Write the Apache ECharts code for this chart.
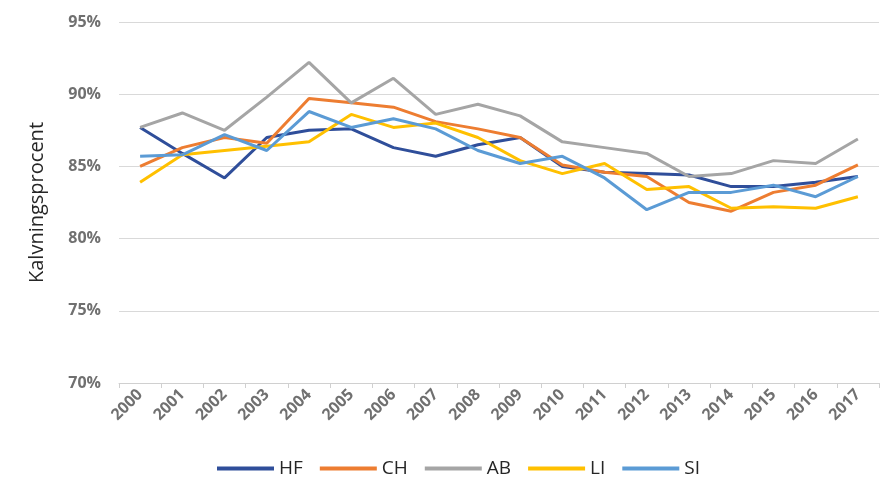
<!DOCTYPE html>
<html>
<head>
<meta charset="utf-8">
<script src="https://cdn.jsdelivr.net/npm/echarts@6/dist/echarts.min.js"></script>
<style>
  html, body { margin: 0; padding: 0; background: #fff; }
  #main { width: 894px; height: 493px; }
</style>
</head>
<body>
<div id="main"></div>
<script>
var years = ['2000','2001','2002','2003','2004','2005','2006','2007','2008','2009',
  '2010','2011','2012','2013','2014','2015','2016','2017'];
var hf = [87.7, 85.9, 84.2, 87.0, 87.5, 87.6, 86.3, 85.7, 86.5, 87.0, 85.0, 84.6, 84.5, 84.4, 83.6, 83.6, 83.9, 84.3];
var ch = [85.0, 86.3, 87.0, 86.6, 89.7, 89.4, 89.1, 88.1, 87.6, 87.0, 85.1, 84.6, 84.3, 82.5, 81.9, 83.2, 83.7, 85.1];
var ab = [87.7, 88.7, 87.5, 89.8, 92.2, 89.4, 91.1, 88.6, 89.3, 88.5, 86.7, 86.3, 85.9, 84.3, 84.5, 85.4, 85.2, 86.9];
var li = [83.9, 85.8, 86.1, 86.4, 86.7, 88.6, 87.7, 88.0, 87.0, 85.4, 84.5, 85.2, 83.4, 83.6, 82.1, 82.2, 82.1, 82.9];
var si = [85.7, 85.8, 87.2, 86.1, 88.8, 87.7, 88.3, 87.6, 86.1, 85.2, 85.7, 84.2, 82.0, 83.2, 83.2, 83.7, 82.9, 84.3];

var names = ['HF', 'CH', 'AB', 'LI', 'SI'];
var colors = ['#2f4e9a', '#ed7d31', '#a5a5a5', '#ffc000', '#5b9bd5'];
var values = [hf, ch, ab, li, si];

var series = names.map(function (n, i) {
  return {
    name: n,
    type: 'line',
    data: values[i],
    symbol: 'none',
    lineStyle: { width: 3, color: colors[i] },
    itemStyle: { color: colors[i] }
  };
});

var chart = echarts.init(document.getElementById('main'));
chart.setOption({
  animation: false,
  grid: { left: 119, right: 15, top: 22, bottom: 110 },
  legend: {
    bottom: 10,
    left: 212,
    icon: 'rect',
    itemWidth: 57,
    itemHeight: 4,
    itemGap: 17,
    textStyle: { fontSize: 19, color: '#262626', fontFamily: 'Open Sans' },
    data: names
  },
  xAxis: {
    type: 'category',
    data: years,
    boundaryGap: true,
    axisLine: { lineStyle: { color: '#d0d0d0', width: 1 } },
    axisTick: { show: true, length: 5, lineStyle: { color: '#d0d0d0' } },
    axisLabel: {
      rotate: 45, color: '#707070', fontSize: 16, fontWeight: 'bold',
      fontFamily: 'Open Sans', margin: 9
    }
  },
  yAxis: {
    type: 'value',
    min: 70,
    max: 95,
    interval: 5,
    name: 'Kalvningsprocent',
    nameLocation: 'middle',
    nameGap: 72,
    nameTextStyle: { fontSize: 20, color: '#262626', fontFamily: 'Open Sans' },
    axisLine: { show: false },
    axisTick: { show: false },
    splitLine: { lineStyle: { color: '#d9d9d9', width: 1 } },
    axisLabel: {
      color: '#707070', fontSize: 16, fontWeight: 'bold', fontFamily: 'Open Sans', margin: 18,
      formatter: function (v) { return v + '%'; }
    }
  },
  series: series
});
</script>
</body>
</html>
